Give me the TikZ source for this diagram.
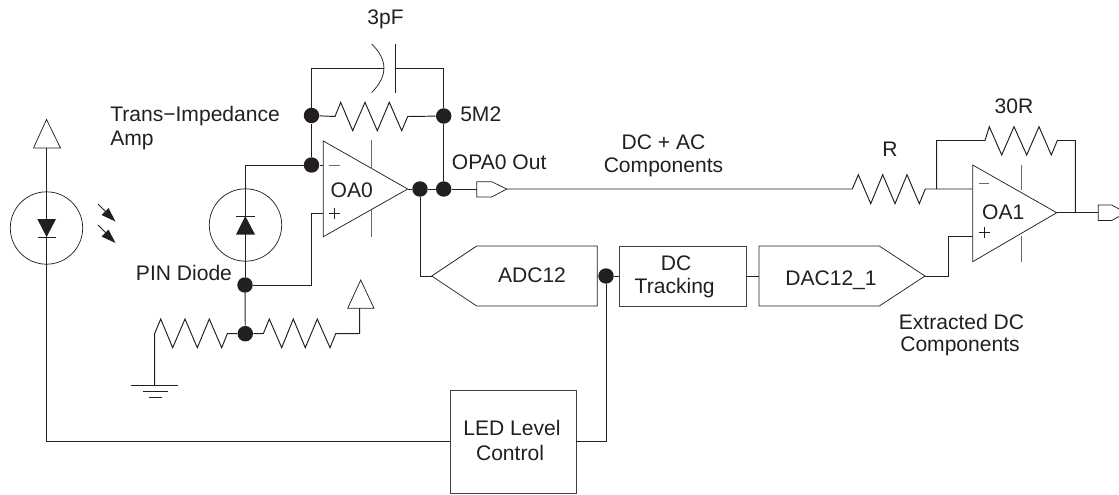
\documentclass[tikz,border=0pt]{standalone}
\usepackage{fontspec}
\setmainfont{Liberation Sans}
\definecolor{ink}{HTML}{231F20}
\definecolor{faint}{HTML}{6A6869}
\tikzset{
  wire/.style={draw=ink,line width=0.72pt,line join=miter},
  thin wire/.style={draw=ink,line width=0.55pt,line join=miter},
  faint wire/.style={draw=faint,line width=0.7pt},
  dot/.style={circle,fill=ink,inner sep=0pt,minimum size=11.6pt},
  lbl/.style={inner sep=0pt,anchor=base,text=ink,font=\fontsize{15.8}{19}\selectfont},
  lbll/.style={lbl,anchor=base west},
  blockbox/.style={draw=ink!85,line width=0.6pt,rectangle,inner sep=0pt,fill=white},
}
\begin{document}
\begin{tikzpicture}[x=0.75pt,y=-0.75pt]
\useasboundingbox (0,0) rectangle (1119,494);
\clip (0,0) rectangle (1119,494);

% named points
\coordinate (ledtop) at (46.5,148);
\coordinate (ledcorner) at (46.5,441.7);
\coordinate (pincorner) at (245,165);
\coordinate (plusbend) at (311.7,285);
\coordinate (plustop) at (311.7,213);
\coordinate (plusin) at (323.3,213);
\coordinate (oa0apex) at (407.7,189);
\coordinate (fbtl) at (311.5,68);
\coordinate (fbtr) at (443.7,68);
\coordinate (gndtop) at (154.7,385.3);
\coordinate (gndbend) at (154.7,333.5);
\coordinate (refbase) at (359.7,308.3);
\coordinate (refbend) at (359.7,333.5);
\coordinate (buf0in) at (476.7,189);
\coordinate (buf0out) at (506.7,189);
\coordinate (oa1minus) at (972.7,189);
\coordinate (oa1plus) at (972.7,236.7);
\coordinate (oa1apex) at (1056.7,212.7);
\coordinate (buf1in) at (1098.3,212.7);
\coordinate (adcapex) at (431.7,276);
\coordinate (adcbend) at (420,276);
\coordinate (dacapex) at (925,276);
\coordinate (rbr) at (936.7,189);
\coordinate (rbt) at (936.7,140.5);
\coordinate (rbtr) at (1075.3,140.5);
\coordinate (rbo) at (1075.3,212.7);
\coordinate (ledctlcorner) at (606,441.7);

% blocks
\node[blockbox,minimum width=95.5pt,minimum height=45pt] (dctrack) at (682.6,276) {};
\node[blockbox,minimum width=94.5pt,minimum height=77pt] (ledctl) at (513,442) {};

% junction dots
\node[dot] (jfbl) at (311.5,115.5) {};
\node[dot] (jfbr) at (443.7,116) {};
\node[dot] (jinv) at (311.5,165) {};
\node[dot] (jout) at (420,189) {};
\node[dot] (joutr) at (443.7,189) {};
\node[dot] (jpin) at (245,285) {};
\node[dot] (jdiv) at (245.3,333.7) {};
\node[dot] (jadc) at (606,276) {};

% LED
\draw[thin wire] (46.5,119.5) -- (33.5,148) -- (60.5,148) -- cycle;
\node[draw=ink,line width=0.55pt,circle,minimum size=54.3pt,inner sep=0pt] (ledring) at (46.5,228) {};
\draw[wire] (ledtop) -- (ledcorner) -- (ledctl.west |- ledcorner);
\fill[ink] (37.3,219) -- (56,219) -- (46.6,237) -- cycle;
\draw[thin wire] (37.8,237.2) -- (55.5,237.2);
\draw[thin wire] (98,204) -- (106,212);
\fill[ink] (115.5,221.5) -- (101.5,215) -- (108.5,208) -- cycle;
\draw[thin wire] (98,225) -- (106,233);
\fill[ink] (115.5,243) -- (101.5,236.5) -- (108.5,229.5) -- cycle;

% PIN diode
\node[draw=ink,line width=0.55pt,circle,minimum size=54.3pt,inner sep=0pt] (pinring) at (245.5,225) {};
\draw[wire] (jinv) -- (pincorner) -- (jpin);
\fill[ink] (236,234.5) -- (255,234.5) -- (245.3,216) -- cycle;
\draw[thin wire] (236,216) -- (254.5,216);
\draw[wire] (jpin) -- (jdiv);
\draw[wire] (jpin) -- (plusbend) -- (plustop) -- (plusin);

% divider
\draw[wire] (gndtop) -- (gndbend) -- (160.7,319) -- (172.7,347.7) -- (185,319) -- (197.3,347.7) -- (209.3,319) -- (221.7,347.7) -- (227.3,333.7) -- (jdiv);
\draw[wire] (jdiv) -- (263.3,333.7) -- (269.3,319) -- (281.7,347.7) -- (293.3,319) -- (305.3,347.7) -- (317.3,319) -- (330,347.7) -- (335.7,333.7) -- (refbend) -- (refbase);
\draw[thin wire] (360.7,280) -- (347.7,308.3) -- (374,308.3) -- cycle;
\draw[wire] (131,385.3) -- (178.3,385.3);
\draw[wire] (143.3,391.7) -- (167.7,391.7);
\draw[wire] (149.3,397.7) -- (161.7,397.7);

% OA0
\draw[thin wire] (323.3,141) -- (oa0apex) -- (323.3,236.7) -- cycle;
\draw[faint wire] (371.7,140) -- (371.7,168.5);
\draw[faint wire] (371.7,209.5) -- (371.7,237.3);
\draw[faint wire] (328.5,165) -- (340,165);
\draw[thin wire] (334,207.5) -- (334,218.5) (328.5,213) -- (339.5,213);
\draw[wire] (jinv) -- (323.3,165);
\draw[wire] (jfbl) -- (jinv);
\draw[wire] (oa0apex) -- (jout);
\draw[wire] (jout) -- (joutr);
\draw[wire] (jout) -- (adcbend) -- (adcapex);

% feedback
\draw[wire] (jfbl) -- (fbtl) -- (384,68);
\draw[wire] (395.7,68) -- (fbtr) -- (jfbr);
\draw[wire] (jfbr) -- (joutr);
\draw[thin wire] (371.7,44) .. controls (388,60) and (388,76) .. (371.7,92.5);
\draw[wire] (395.7,44) -- (395.7,92.7);
\draw[wire] (jfbl) -- (335,116.5) -- (340.7,102.3) -- (352.7,130.7) -- (365,102.3) -- (377.3,130.7) -- (389.3,102.3) -- (401.7,130.7) -- (407.7,116.5) -- (jfbr);

% output buffer and signal line
\draw[wire] (joutr) -- (buf0in);
\draw[thin wire] (476.7,181.7) -- (491.7,181.7) -- (buf0out) -- (491.7,197) -- (476.7,197) -- cycle;
\draw[wire] (buf0out) -- (852.3,189) -- (858.3,174.7) -- (870.7,203.7) -- (882.7,174.7) -- (895,203.7) -- (907,174.7) -- (919.3,203.7) -- (925.3,189) -- (oa1minus);

% OA1
\draw[thin wire] (972.7,165) -- (oa1apex) -- (972.7,261.7) -- cycle;
\draw[faint wire] (1021,164.7) -- (1021,189.5);
\draw[faint wire] (1021,235.5) -- (1021,261.7);
\draw[faint wire] (979,183) -- (988.5,183);
\draw[thin wire] (984.7,226.8) -- (984.7,237.8) (979.2,232.3) -- (990.2,232.3);
\draw[wire] (rbr) -- (rbt) -- (985,140.5) -- (989.3,126.7) -- (1001.7,155) -- (1014,126.7) -- (1026.7,155) -- (1039,126.7) -- (1051.3,155) -- (1057.3,140.5) -- (rbtr) -- (rbo);
\draw[wire] (oa1apex) -- (buf1in);
\draw[thin wire] (1098.3,205) -- (1111.7,205) -- (1126,212.7) -- (1111.7,220.5) -- (1098.3,220.5) -- cycle;
\draw[wire] (oa1plus) -- (948.3,236.7) -- (948.3,276) -- (dacapex);

% ADC, DAC
\draw[thin wire] (adcapex) -- (476.7,246) -- (597.3,246) -- (597.3,306) -- (476.7,306) -- cycle;
\draw[thin wire] (759,246) -- (879.3,246) -- (dacapex) -- (879.3,306) -- (759,306) -- cycle;
\draw[wire] (597.3,276) -- (jadc);
\draw[wire] (jadc) -- (dctrack.west);
\draw[wire] (dctrack.east) -- (759,276);
\draw[wire] (jadc) -- (ledctlcorner) -- (ledctl.east |- ledctlcorner);

% labels
\node[lbl] (t3pf) at (385.5,24) {3pF};
\node[lbll] (t5m2) at (460,121.7) {5M2};
\node[lbll] (ttia) at (110,121.7) {Trans−Impedance};
\node[lbll] (tamp) at (110,145.7) {Amp};
\node[lbll] (tpin) at (135.7,280) {PIN Diode};
\node[lbl] (toa0) at (351.7,197.3) {OA0};
\node[lbl] (toa1) at (1003.3,219.3) {OA1};
\node[lbll] (topa) at (451.7,169.3) {OPA0 Out};
\node[lbl] (tdcac) at (663.5,149.5) {DC + AC};
\node[lbl] (tcomp) at (663.5,172) {Components};
\node[lbl] (tr) at (890,156.7) {R};
\node[lbl] (t30r) at (1014,113.3) {30R};
\node[lbl] (tadc) at (532,282.7) {ADC12};
\node[lbl] (tdc) at (676,270) {DC};
\node[lbl] (ttrack) at (674.7,293) {Tracking};
\node[lbl] (tdac) at (831,285) {DAC12\_1};
\node[lbl] (text) at (961.5,329.3) {Extracted DC};
\node[lbl] (tcomp2) at (960,351.7) {Components};
\node[lbl] (tled) at (512,435) {LED Level};
\node[lbl] (tctl) at (510,460) {Control};
\end{tikzpicture}
\end{document}
